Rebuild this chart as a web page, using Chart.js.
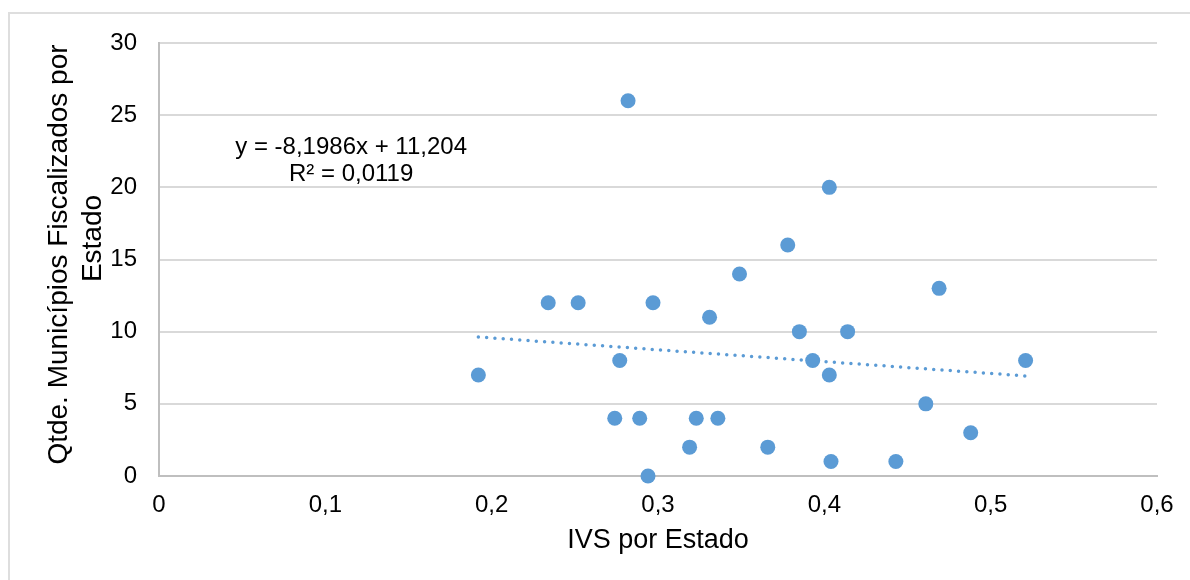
<!DOCTYPE html>
<html lang="pt-BR">
<head>
<meta charset="utf-8">
<title>IVS x Municípios Fiscalizados</title>
<script src="https://cdn.jsdelivr.net/npm/chart.js@4.4.1/dist/chart.umd.min.js"></script>
<style>
	html, body {
		margin: 0;
		padding: 0;
		background: #ffffff;
		overflow: hidden;
	}
	#frame {
		position: absolute;
		left: 8px;
		top: 12px;
		width: 1200px;
		height: 600px;
		border: 2px solid #dedede;
	}
	#holder {
		position: absolute;
		left: 0;
		top: 0;
		width: 1190px;
		height: 580px;
	}
</style>
</head>
<body>
<div id="frame"></div>
<div id="holder"><canvas id="chart"></canvas></div>
<script>
'use strict';

// IVS of each state and number of municipalities audited
const ivs = [0.192, 0.234, 0.252, 0.282, 0.277, 0.274, 0.289, 0.297, 0.294, 0.319, 0.323, 0.331, 0.336, 0.349,
	0.366, 0.378, 0.385, 0.393, 0.403, 0.403, 0.404, 0.414, 0.443, 0.461, 0.469, 0.488, 0.521];
const municipios = [7, 12, 12, 26, 8, 4, 4, 12, 0, 2, 4, 11, 4, 14,
	2, 16, 10, 8, 20, 7, 1, 10, 1, 5, 13, 3, 8];

// linear trendline
const slope = -8.1986;
const intercept = 11.204;
const rSquared = 0.0119;

const xTicks = [0, 0.1, 0.2, 0.3, 0.4, 0.5, 0.6];
const xTickLabels = ['0', '0,1', '0,2', '0,3', '0,4', '0,5', '0,6'];
const yTicks = [0, 5, 10, 15, 20, 25, 30];
const yTitleLines = ['Qtde. Municípios Fiscalizados por', 'Estado'];

const blue = '#5b9bd5';
const fontFamily = '"Liberation Sans", Arial, sans-serif';

const decimal = (v) => v.toString().replace('.', ',');

const points = ivs.map((x, i) => ({x: x, y: municipios[i]}));

const xMin = Math.min(...ivs);
const xMax = Math.max(...ivs);
const trend = [
	{x: xMin, y: slope * xMin + intercept},
	{x: xMax, y: slope * xMax + intercept}
];

const equationLabel = {
	id: 'equationLabel',
	afterDatasetsDraw(chart) {
		const ctx = chart.ctx;
		const x = chart.scales.x.getPixelForValue(0.1155);
		const y = chart.scales.y.getPixelForValue(22.8);
		ctx.save();
		ctx.fillStyle = '#000000';
		ctx.font = '24px ' + fontFamily;
		ctx.textAlign = 'center';
		ctx.textBaseline = 'middle';
		ctx.fillText('y = ' + decimal(slope) + 'x + ' + decimal(intercept), x, y);
		ctx.fillText('R² = ' + decimal(rSquared), x, y + 27);
		ctx.restore();
	}
};

// two-line rotated title for the y axis, second line sits a bit higher
const yAxisTitle = {
	id: 'yAxisTitle',
	afterDraw(chart) {
		const ctx = chart.ctx;
		const area = chart.chartArea;
		const mid = (area.top + area.bottom) / 2;
		ctx.save();
		ctx.fillStyle = '#000000';
		ctx.font = '28px ' + fontFamily;
		ctx.textAlign = 'center';
		ctx.textBaseline = 'middle';
		ctx.translate(59, mid - 5);
		ctx.rotate(-Math.PI / 2);
		ctx.fillText(yTitleLines[0], 0, 0);
		ctx.fillText(yTitleLines[1], 16, 34);
		ctx.restore();
	}
};

new Chart(document.getElementById('chart'), {
	type: 'scatter',
	data: {
		datasets: [
			{
				data: points,
				backgroundColor: blue,
				borderColor: blue,
				borderWidth: 0,
				pointRadius: 7.5,
				pointHoverRadius: 7.5,
				clip: false,
				order: 0
			},
			{
				type: 'line',
				data: trend,
				borderColor: blue,
				borderWidth: 3.5,
				borderDash: [0, 8.3],
				borderCapStyle: 'round',
				pointRadius: 0,
				fill: false,
				order: 1
			}
		]
	},
	options: {
		responsive: true,
		maintainAspectRatio: false,
		animation: false,
		layout: {
			padding: {top: 43, right: 33, bottom: 0, left: 0}
		},
		plugins: {
			legend: {display: false},
			tooltip: {enabled: false}
		},
		scales: {
			x: {
				type: 'linear',
				min: 0,
				max: 0.6,
				afterBuildTicks: (scale) => {
					scale.ticks = xTicks.map(v => ({value: v}));
				},
				afterFit: (scale) => {
					scale.height = 104;
				},
				grid: {display: false, drawTicks: false},
				border: {display: true, color: '#bfbfbf', width: 2},
				ticks: {
					padding: 15,
					color: '#000000',
					font: {family: fontFamily, size: 24, lineHeight: 1.2},
					callback: (value, index) => xTickLabels[index]
				},
				title: {
					display: true,
					text: 'IVS por Estado',
					color: '#000000',
					font: {family: fontFamily, size: 27, lineHeight: 1.2},
					padding: {top: 0, bottom: 23}
				}
			},
			y: {
				min: 0,
				max: 30,
				afterBuildTicks: (scale) => {
					scale.ticks = yTicks.map(v => ({value: v}));
				},
				afterFit: (scale) => {
					scale.width = 159;
				},
				grid: {color: '#d9d9d9', lineWidth: 2, drawTicks: false},
				border: {display: true, color: '#bfbfbf', width: 2},
				ticks: {
					padding: 22,
					color: '#000000',
					font: {family: fontFamily, size: 24, lineHeight: 1.2}
				},
				title: {display: false}
			}
		}
	},
	plugins: [equationLabel, yAxisTitle]
});
</script>
</body>
</html>
